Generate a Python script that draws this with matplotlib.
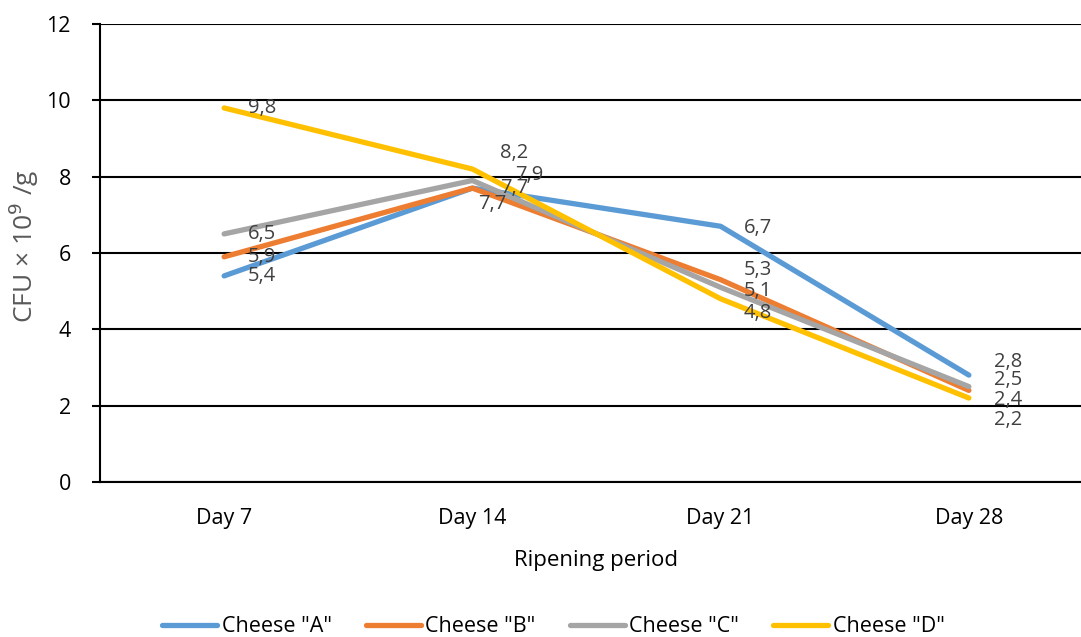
import numpy as np
import matplotlib
matplotlib.use('Agg')
import matplotlib.pyplot as plt

plt.rcParams['font.family'] = ['Open Sans', 'DejaVu Sans']

days = ['Day 7', 'Day 14', 'Day 21', 'Day 28']
cheese_a = [5.4, 7.7, 6.7, 2.8]
cheese_b = [5.9, 7.7, 5.3, 2.4]
cheese_c = [6.5, 7.9, 5.1, 2.5]
cheese_d = [9.8, 8.2, 4.8, 2.2]
series_names = ['Cheese "A"', 'Cheese "B"', 'Cheese "C"', 'Cheese "D"']
colors = ['#5B9BD5', '#ED7D31', '#A5A5A5', '#FFC000']

# label nudges in pixels (dx, dy), so the crowded values don't sit on top of each other
label_shift = [
    [(24, 0), (6, -16), (23, -2), (25, 13)],
    [(24, 0), (28, 0), (23, 10), (25, -10)],
    [(24, 0), (43, 5), (23, -4), (25, 7)],
    [(24, 0), (28, 16), (23, -14), (25, -22)],
]

fig = plt.figure(figsize=(10.81, 6.37), dpi=100)
ax = fig.add_axes([100 / 1081, 155 / 637, 993 / 1081, 458 / 637])

x = np.arange(len(days))
all_vals = [cheese_a, cheese_b, cheese_c, cheese_d]
for name, vals, c, shifts in zip(series_names, all_vals, colors, label_shift):
    ax.plot(x, vals, color=c, lw=3.8, label=name, solid_capstyle='round', zorder=3)
    for xi, v, (dx, dy) in zip(x, vals, shifts):
        ax.annotate(('%.1f' % v).replace('.', ','), (xi, v), xytext=(dx, dy),
                    textcoords='offset pixels', ha='left', va='center',
                    fontsize=14.5, color='#404040', zorder=4)

ax.set_xlim(-0.5, 3.5)
ax.set_ylim(0, 12)
ax.set_yticks(np.arange(0, 13, 2))
ax.set_xticks(x)
ax.set_xticklabels(days)
ax.grid(axis='y', color='black', lw=1.5, zorder=1)
for s in ['top', 'right']:
    ax.spines[s].set_visible(False)
ax.spines['left'].set_linewidth(1.5)
ax.spines['bottom'].set_linewidth(1.5)
ax.tick_params(axis='y', length=6, width=1.5, labelsize=15.5, pad=15)
ax.tick_params(axis='x', length=0, labelsize=15.5, pad=19)

ax.set_xlabel('Ripening period', fontsize=16, labelpad=15)
ax.set_ylabel('CFU × 10$^{9}$ /g', fontsize=19, color='#595959',
              ha='center', va='center')
ax.yaxis.set_label_coords(-0.0765, 0.515)

fig.legend(loc='center', bbox_to_anchor=(0.512, 0.0157), ncol=4, frameon=False,
           fontsize=15.5, handlelength=2.55, handletextpad=0.2, columnspacing=1.6)

fig.savefig('out.png', dpi=100)
